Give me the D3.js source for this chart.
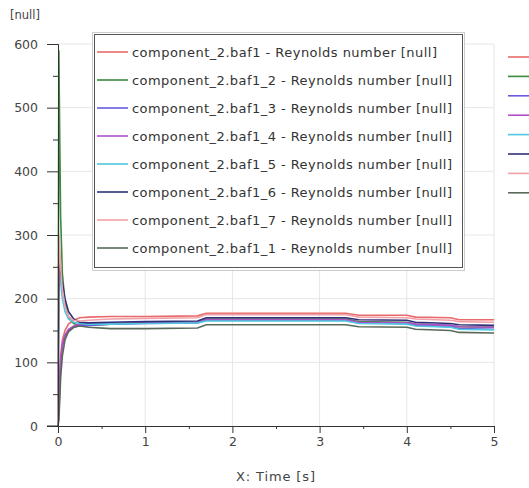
<!DOCTYPE html>
<html><head><meta charset="utf-8">
<script src="https://cdn.jsdelivr.net/npm/d3@7"></script>
<style>body{margin:0;background:#fff}svg{display:block}</style>
</head><body><svg id="c" width="529" height="488"></svg>
<script>
const times = [0, 0.01, 0.02, 0.03, 0.05, 0.08, 0.12, 0.18, 0.25, 0.35, 0.6, 1.0, 1.6, 1.7, 2.5, 3.3, 3.45, 4.0, 4.1, 4.5, 4.6, 5.0];
const baf1   = [0, 40, 80, 110, 135, 150, 160, 166, 170, 171, 172, 172, 173, 177, 177, 177, 174, 174, 171, 170, 167, 167];
const baf1_2 = [0, 590, 450, 330, 240, 195, 170, 161, 158, 158, 160, 162, 163, 168, 168, 168, 164, 163, 160, 158, 156, 155];
const baf1_3 = [0, 20, 60, 95, 125, 140, 150, 155, 158, 158, 160, 161, 162, 166, 166, 166, 162, 161, 158, 156, 153, 152];
const baf1_4 = [0, 30, 70, 100, 128, 143, 152, 157, 160, 160, 161, 162, 163, 167, 167, 167, 163, 162, 160, 158, 156, 155];
const baf1_5 = [0, 250, 240, 225, 200, 180, 168, 163, 161, 160, 160, 161, 162, 165, 165, 165, 161, 160, 157, 155, 152, 151];
const baf1_6 = [0, 200, 256, 245, 225, 200, 180, 168, 163, 162, 163, 164, 165, 170, 170, 170, 167, 166, 163, 161, 159, 158];
const baf1_7 = [0, 300, 280, 250, 215, 188, 172, 166, 165, 166, 168, 169, 170, 175, 175, 175, 171, 170, 168, 166, 164, 163];
const baf1_1 = [0, 10, 40, 75, 110, 135, 148, 155, 157, 155, 153, 153, 154, 159, 159, 159, 156, 155, 152, 150, 147, 146];
const seriesNames = ["component_2.baf1 - Reynolds number [null]", "component_2.baf1_2 - Reynolds number [null]", "component_2.baf1_3 - Reynolds number [null]", "component_2.baf1_4 - Reynolds number [null]", "component_2.baf1_5 - Reynolds number [null]", "component_2.baf1_6 - Reynolds number [null]", "component_2.baf1_7 - Reynolds number [null]", "component_2.baf1_1 - Reynolds number [null]"];
const seriesValues = [baf1, baf1_2, baf1_3, baf1_4, baf1_5, baf1_6, baf1_7, baf1_1];
const colors = ["#e86a6a", "#3c8a3c", "#6a5ae0", "#b050c8", "#50c8e0", "#30307a", "#f0a0a8", "#5a6a5a"];
const xTicks = [0, 1, 2, 3, 4, 5];
const yTicks = [0, 100, 200, 300, 400, 500, 600];

const svg = d3.select("#c");
const x = d3.scaleLinear().domain([0, 5]).range([58, 494]);
const y = d3.scaleLinear().domain([0, 600]).range([426, 44]);
const font = "DejaVu Sans, Verdana, sans-serif";

// grid
svg.append("g").selectAll("line").data(xTicks.slice(1)).join("line")
  .attr("x1", d => x(d)).attr("x2", d => x(d)).attr("y1", y(600)).attr("y2", y(0))
  .attr("stroke", "#e6e6e6");
svg.append("g").selectAll("line").data(yTicks.slice(1)).join("line")
  .attr("x1", x(0)).attr("x2", x(5)).attr("y1", d => y(d)).attr("y2", d => y(d))
  .attr("stroke", "#e6e6e6");

// lines
const line = d3.line().x((d, i) => x(times[i])).y(d => y(d));
svg.append("g").selectAll("path").data(seriesValues).join("path")
  .attr("d", d => line(d)).attr("fill", "none")
  .attr("stroke", (d, i) => colors[i]).attr("stroke-width", 1.6);

// axes
const xAxis = svg.append("g").attr("transform", `translate(0,${y(0)})`)
  .call(d3.axisBottom(x).tickValues(xTicks).tickSize(7).tickPadding(4).tickFormat(d3.format("d")));
const xMinor = svg.append("g").attr("transform", `translate(0,${y(0)})`)
  .call(d3.axisBottom(x).tickValues([0.5, 1.5, 2.5, 3.5, 4.5]).tickSize(3).tickFormat(""));
const yAxis = svg.append("g").attr("transform", `translate(${x(0)},0)`)
  .call(d3.axisLeft(y).tickValues(yTicks).tickSize(11).tickPadding(9));
const yMinor = svg.append("g").attr("transform", `translate(${x(0)},0)`)
  .call(d3.axisLeft(y).tickValues([50, 150, 250, 350, 450, 550]).tickSize(5).tickFormat(""));
[xAxis, xMinor, yAxis, yMinor].forEach(g => {
  g.select(".domain").attr("stroke", "#333");
  g.selectAll(".tick line").attr("stroke", "#333");
  g.selectAll("text").attr("fill", "#444").style("font-family", font).style("font-size", "12.5px");
});
xMinor.select(".domain").remove();
yMinor.select(".domain").remove();
svg.append("line").attr("x1", 47).attr("x2", x(0)).attr("y1", y(0)).attr("y2", y(0)).attr("stroke", "#333");

svg.append("text").attr("x", 10).attr("y", 19).text("[null]")
  .attr("fill", "#444").style("font-family", font).style("font-size", "11.5px");
svg.append("text").attr("x", 236).attr("y", 481).text("X: Time [s]")
  .attr("textLength", 79).attr("lengthAdjust", "spacing")
  .attr("fill", "#444").style("font-family", font).style("font-size", "13px");

// legend
const lg = svg.append("g");
lg.append("rect").attr("x", 92.5).attr("y", 32.5).attr("width", 372).attr("height", 238)
  .attr("fill", "#fff").attr("stroke", "#999").attr("stroke-dasharray", "1,1");
lg.append("rect").attr("x", 94.5).attr("y", 34.5).attr("width", 368).attr("height", 233)
  .attr("fill", "none").attr("stroke", "#555");
const items = lg.selectAll("g.it").data(seriesNames).join("g").attr("class", "it")
  .attr("transform", (d, i) => `translate(0,${52 + i * 28})`);
items.append("line").attr("x1", 97).attr("x2", 128).attr("stroke", (d, i) => colors[i]).attr("stroke-width", 1.6);
items.append("text").attr("x", 132).attr("dy", "0.35em").text(d => d)
  .attr("textLength", (d, i) => i === 0 ? 305 : 320).attr("lengthAdjust", "spacing")
  .attr("fill", "#333").style("font-family", font).style("font-size", "13px");

// second (clipped) legend at right edge
svg.append("g").selectAll("line").data(seriesNames).join("line")
  .attr("x1", 508).attr("x2", 529).attr("y1", (d, i) => 57 + i * 19.4).attr("y2", (d, i) => 57 + i * 19.4)
  .attr("stroke", (d, i) => colors[i]).attr("stroke-width", 1.6);
</script></body></html>
